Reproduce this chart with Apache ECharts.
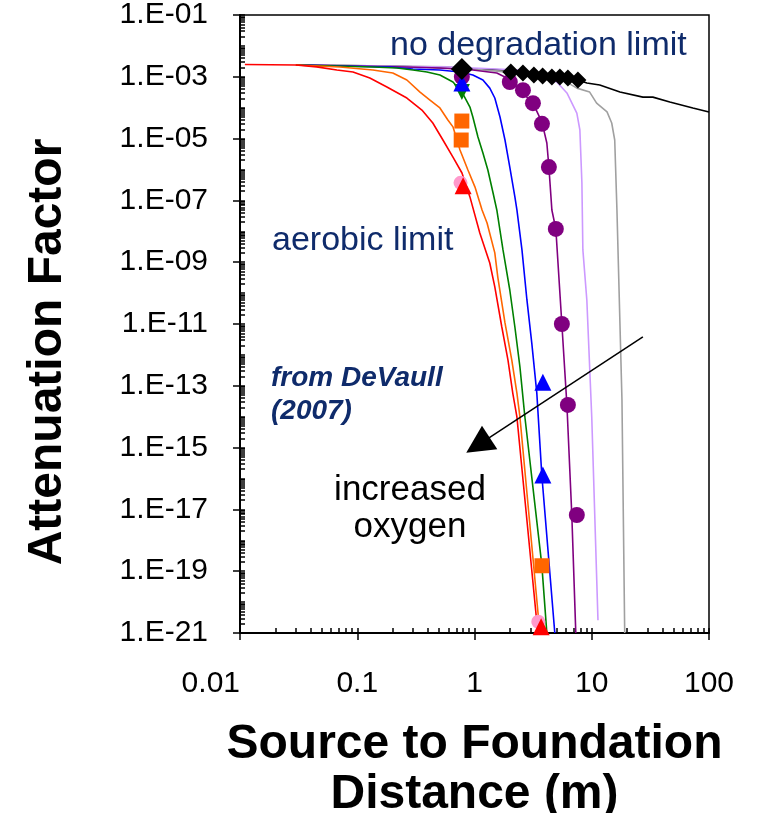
<!DOCTYPE html>
<html>
<head>
<meta charset="utf-8">
<script src="https://cdn.jsdelivr.net/npm/echarts@6/dist/echarts.min.js"></script>
<style>
  html, body { margin: 0; padding: 0; background: #ffffff; }
  #chart { width: 759px; height: 813px; }
</style>
</head>
<body>
<div id="chart"></div>
<script>
// Attenuation factor vs. source-to-foundation distance (DeVaull, 2007)
// Each curve: [distance (m), attenuation factor]

const xTickValues = [0.01, 0.1, 1, 10, 100];
const xTickLabels = ['0.01', '0.1', '1', '10', '100'];
const yTickValues = [1e-21, 1e-19, 1e-17, 1e-15, 1e-13, 1e-11, 1e-9, 1e-7, 1e-5, 1e-3, 1e-1];
const yTickLabels = ['1.E-21', '1.E-19', '1.E-17', '1.E-15', '1.E-13', '1.E-11',
                     '1.E-09', '1.E-07', '1.E-05', '1.E-03', '1.E-01'];

// aerobic limit (most oxygen)
const redLine = [[0.011, 2.5e-3], [0.03, 2.4e-3], [0.045, 2.1e-3], [0.067, 1.66e-3], [0.092, 1.43e-3],
  [0.128, 9.1e-4], [0.179, 4.7e-4], [0.265, 2.06e-4], [0.356, 8.4e-5], [0.441, 3.2e-5],
  [0.538, 9.0e-6], [0.655, 2.5e-6], [0.782, 7.7e-7], [0.914, 1.3e-7], [1.11, 8.8e-9],
  [1.35, 9.4e-10], [1.49, 1.6e-10], [1.71, 8e-12], [1.93, 6.8e-13], [2.12, 5.8e-14],
  [2.30, 9.8e-15], [3.47, 1e-21]];

const orangeLine = [[0.03, 2.4e-3], [0.071, 2.07e-3], [0.136, 1.66e-3], [0.201, 1.33e-3], [0.265, 7.9e-4],
  [0.343, 3.2e-4], [0.417, 1.77e-4], [0.507, 9.8e-5], [0.593, 4.0e-5], [0.655, 2.4e-5],
  [0.752, 4.3e-6], [0.879, 9.6e-7], [1.01, 2.7e-7], [1.16, 4.9e-8], [1.28, 1.86e-8],
  [1.49, 2.0e-9], [1.58, 3.3e-10], [1.82, 1.08e-11], [2.08, 6.8e-13], [2.30, 5.8e-14],
  [2.44, 9.8e-15], [3.61, 1e-21]];

const greenLine = [[0.03, 2.4e-3], [0.136, 2.07e-3], [0.218, 1.93e-3], [0.299, 1.66e-3], [0.393, 1.43e-3],
  [0.507, 1.14e-3], [0.655, 6.8e-4], [0.782, 3.2e-4], [0.914, 1.05e-4], [0.968, 5.0e-5],
  [1.07, 1.13e-5], [1.18, 3.4e-6], [1.30, 9.6e-7], [1.44, 1.73e-7], [1.55, 4.9e-8],
  [1.75, 2.5e-9], [2.00, 1.26e-10], [2.21, 8e-12], [2.44, 4.1e-13], [2.69, 9.8e-15],
  [3.75, 1.6e-19], [4.14, 1e-21]];

const blueLine = [[0.03, 2.4e-3], [0.19, 2.07e-3], [0.299, 1.79e-3], [0.507, 1.66e-3], [0.752, 1.43e-3],
  [0.968, 1.14e-3], [1.18, 7.9e-4], [1.35, 4.3e-4], [1.49, 2.06e-4], [1.65, 5.0e-5],
  [1.82, 9.0e-6], [2.00, 1.2e-6], [2.21, 1.3e-7], [2.30, 4.9e-8], [2.54, 2.5e-9],
  [2.80, 6.0e-11], [3.08, 2.4e-12], [3.40, 5.8e-14], [3.75, 1.3e-16], [4.84, 1e-21]];

const purpleLine = [[0.03, 2.4e-3], [0.265, 2.07e-3], [0.507, 1.93e-3], [0.968, 1.66e-3], [1.55, 1.33e-3],
  [1.89, 9.1e-4], [2.30, 4.7e-4], [2.80, 2.2e-4], [3.27, 1.05e-4], [3.76, 3.4e-5],
  [4.14, 7.2e-6], [4.31, 1.2e-6], [4.57, 4.9e-8], [4.94, 1.19e-8], [5.56, 1.0e-11],
  [6.14, 2.4e-14], [6.76, 6.6e-18], [7.31, 1e-21]];

const lavenderLine = [[0.03, 2.4e-3], [0.617, 2.07e-3], [2.44, 1.66e-3], [3.61, 9.9e-4], [5.04, 6.8e-4],
  [6.14, 3.0e-4], [7.46, 6.7e-5], [7.92, 1.9e-5], [8.24, 3.7e-7], [8.40, 2.5e-9],
  [9.08, 6.0e-11], [10.0, 9.8e-15], [11.3, 2.6e-21]];

const grayLine = [[0.03, 2.4e-3], [0.6, 2.1e-3], [3.61, 1.14e-3], [5.35, 9.1e-4], [7.46, 4.3e-4],
  [9.6, 3.2e-4], [11.0, 1.4e-4], [13.5, 7.3e-5], [14.8, 3.2e-5], [15.7, 9.0e-6],
  [16.4, 4.9e-8], [18.1, 3.5e-14], [19.1, 1e-21]];

// no degradation limit
const blackLine = [[0.03, 2.4e-3], [0.201, 2.24e-3], [0.582, 1.93e-3], [1.89, 1.66e-3], [3.61, 1.33e-3],
  [6.90, 9.1e-4], [9.08, 6.3e-4], [11.7, 5.4e-4], [17.4, 3.2e-4], [27.3, 2.2e-4],
  [33.2, 2.2e-4], [46.3, 1.53e-4], [72.8, 9.8e-5], [100, 7.3e-5]];

// measured / reported points
const blackDiamonds = [[0.78, 1.8e-3], [2.04, 1.43e-3], [2.59, 1.33e-3], [3.21, 1.14e-3], [3.81, 1.06e-3],
  [4.57, 9.9e-4], [5.35, 9.9e-4], [6.26, 9.1e-4], [7.62, 7.9e-4]];
const purpleCircles = [[0.78, 1.0e-3], [2.00, 6.8e-4], [2.59, 3.7e-4], [3.15, 1.4e-4], [3.76, 3.0e-5],
  [4.31, 1.2e-6], [4.94, 1.19e-8], [5.56, 1.0e-11], [6.26, 2.4e-14], [7.46, 6.6e-18]];
const blueTriangles = [[0.78, 6.3e-4], [3.83, 1.3e-13], [3.83, 1.3e-16]];
const greenTriangles = [[0.78, 3.2e-4]];
const orangeSquares = [[0.78, 3.7e-5], [0.77, 9.0e-6], [3.76, 1.5e-19]];
const pinkCircles = [[0.76, 3.7e-7], [3.5, 2.3e-21]];
const redTriangles = [[0.80, 3.0e-7], [3.7, 1.6e-21]];

// "increased oxygen" arrow, in data coordinates
const arrowFrom = [27.3, 3.8e-12];
const arrowTo = [1.07, 1.2e-15];

const NAVY = '#0f2b6b';
const FONT = '"Liberation Sans", Arial, sans-serif';

// minor tick positions: 1..9 x each decade
function minorValues(lo, hi) {
  const out = [];
  for (let e = lo; e < hi; e++) {
    for (let k = 1; k <= 9; k++) out.push(k * Math.pow(10, e));
  }
  out.push(Math.pow(10, hi));
  return out;
}
const xMinor = minorValues(-2, 2);
const yMinor = minorValues(-21, -1);

function labelFor(values, labels) {
  return v => {
    for (let i = 0; i < values.length; i++) {
      if (Math.abs(Math.log10(v) - Math.log10(values[i])) < 1e-6) return labels[i];
    }
    return '';
  };
}

const gridRect = { left: 240, top: 15, width: 469, height: 618, outerBoundsMode: 'none', containLabel: false };

function lineSeries(name, data, color, z) {
  return {
    name, type: 'line', data, showSymbol: false, symbol: 'none',
    lineStyle: { color, width: 1.6 }, itemStyle: { color }, z: z || 2,
    animation: false, silent: true
  };
}
function pointSeries(name, data, symbol, size, color, extra) {
  return Object.assign({
    name, type: 'scatter', data, symbol, symbolSize: size,
    itemStyle: { color, opacity: 1 }, z: 5, animation: false, silent: true
  }, extra || {});
}

const chart = echarts.init(document.getElementById('chart'), null, { renderer: 'canvas' });

chart.setOption({
  backgroundColor: '#ffffff',
  animation: false,
  textStyle: { fontFamily: FONT },
  grid: [
    Object.assign({ show: true, borderColor: '#000', borderWidth: 1.5, backgroundColor: 'transparent' }, gridRect),
    Object.assign({ show: false }, gridRect)
  ],
  xAxis: [
    {
      gridIndex: 0, type: 'log', logBase: 10, min: 0.01, max: 100,
      axisLine: { show: true, lineStyle: { color: '#000', width: 2 } },
      axisTick: { show: true, inside: false, length: 7, customValues: xTickValues,
        lineStyle: { color: '#000', width: 1.5 } },
      axisLabel: {
        fontSize: 30, color: '#000', fontFamily: FONT, margin: 36,
        customValues: xTickValues, alignMinLabel: 'right',
        formatter: labelFor(xTickValues, xTickLabels)
      },
      splitLine: { show: false },
      name: 'Source to Foundation\nDistance (m)', nameLocation: 'middle', nameGap: 87,
      nameTextStyle: { fontSize: 48, fontWeight: 'bold', color: '#000', fontFamily: FONT, lineHeight: 50 }
    },
    {
      gridIndex: 1, type: 'log', logBase: 10, min: 0.01, max: 100,
      axisLine: { show: false }, axisLabel: { show: false }, splitLine: { show: false },
      axisTick: { show: true, inside: true, length: 5, customValues: xMinor,
        lineStyle: { color: '#000', width: 1.5 } }
    }
  ],
  yAxis: [
    {
      gridIndex: 0, type: 'log', logBase: 10, min: 1e-21, max: 0.1,
      axisLine: { show: true, lineStyle: { color: '#000', width: 2 } },
      axisTick: { show: true, inside: false, length: 7, customValues: yTickValues,
        lineStyle: { color: '#000', width: 1.5 } },
      axisLabel: {
        fontSize: 30, color: '#000', fontFamily: FONT, margin: 32,
        customValues: yTickValues,
        formatter: labelFor(yTickValues, yTickLabels)
      },
      splitLine: { show: false }
    },
    {
      gridIndex: 1, type: 'log', logBase: 10, min: 1e-21, max: 0.1,
      axisLine: { show: false }, axisLabel: { show: false }, splitLine: { show: false },
      axisTick: { show: true, inside: true, length: 5, customValues: yMinor,
        lineStyle: { color: '#000', width: 1.5 } }
    }
  ],
  graphic: [
    { type: 'text', x: 48, y: 352, rotation: Math.PI / 2, silent: true,
      style: { text: 'Attenuation Factor', font: 'bold 48px ' + FONT, fill: '#000',
        align: 'center', verticalAlign: 'middle' } },
    { type: 'text', x: 390, y: 46, silent: true,
      style: { text: 'no degradation limit', font: '34px ' + FONT, fill: NAVY, verticalAlign: 'middle' } },
    { type: 'text', x: 272, y: 241, silent: true,
      style: { text: 'aerobic limit', font: '34px ' + FONT, fill: NAVY, verticalAlign: 'middle' } },
    { type: 'text', x: 271, y: 378, silent: true,
      style: { text: 'from DeVaull', font: 'italic bold 28px ' + FONT, fill: NAVY, verticalAlign: 'middle' } },
    { type: 'text', x: 271, y: 411, silent: true,
      style: { text: '(2007)', font: 'italic bold 28px ' + FONT, fill: NAVY, verticalAlign: 'middle' } },
    { type: 'text', x: 410, y: 490, silent: true,
      style: { text: 'increased', font: '35px ' + FONT, fill: '#000', align: 'center', verticalAlign: 'middle' } },
    { type: 'text', x: 410, y: 527, silent: true,
      style: { text: 'oxygen', font: '35px ' + FONT, fill: '#000', align: 'center', verticalAlign: 'middle' } }
  ],
  series: [
    lineSeries('no degradation', blackLine, '#000000', 2),
    lineSeries('case 7', grayLine, '#a0a0a0', 2),
    lineSeries('case 6', lavenderLine, '#cc99ff', 2),
    lineSeries('case 5', purpleLine, '#800080', 3),
    lineSeries('case 4', blueLine, '#0000ff', 3),
    lineSeries('case 3', greenLine, '#008000', 3),
    lineSeries('case 2', orangeLine, '#ff6600', 3),
    Object.assign(lineSeries('aerobic', redLine, '#ff0000', 3), {
      markLine: {
        silent: true, animation: false,
        symbol: ['none', 'triangle'], symbolSize: 28,
        label: { show: false },
        lineStyle: { color: '#000', width: 1.5, type: 'solid' },
        itemStyle: { color: '#000' },
        data: [[{ coord: arrowFrom }, { coord: arrowTo }]]
      }
    }),
    pointSeries('pink points', pinkCircles, 'circle', 14, '#ff99cc'),
    pointSeries('red points', redTriangles, 'triangle', 17, '#ff0000'),
    pointSeries('orange points', orangeSquares, 'rect', 15, '#ff6600'),
    pointSeries('green points', greenTriangles, 'triangle', 16, '#008000', { symbolRotate: 180 }),
    pointSeries('purple points', purpleCircles, 'circle', 16, '#800080'),
    pointSeries('blue points', blueTriangles, 'triangle', 17, '#0000ff'),
    pointSeries('black points', blackDiamonds, 'diamond',
      (v, p) => (p.dataIndex === 0 ? 22 : 17), '#000000')
  ]
});
</script>
</body>
</html>
